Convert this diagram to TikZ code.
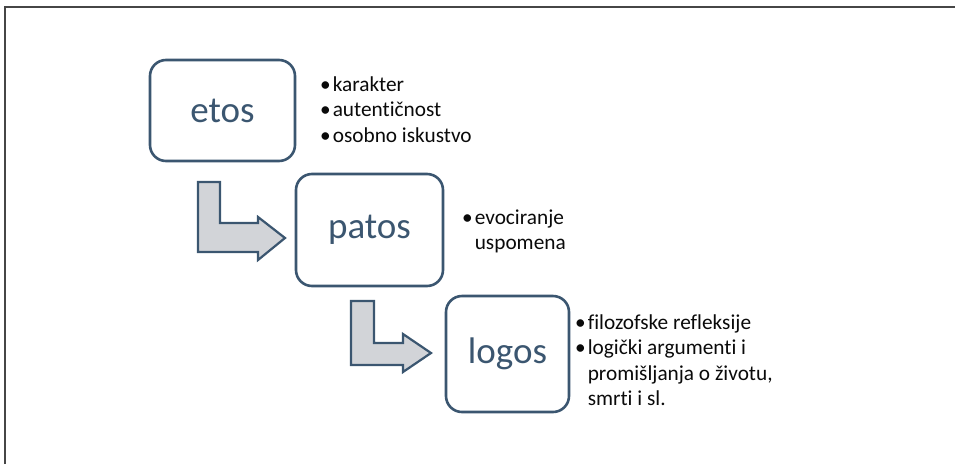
\documentclass[tikz,border=0pt]{standalone}
\usepackage{fontspec}
\setmainfont{Carlito}[Ligatures=NoCommon]
\usetikzlibrary{positioning}

\definecolor{slate}{RGB}{59,86,112}
\definecolor{arrowgray}{RGB}{210,212,216}
\definecolor{txt}{RGB}{10,10,10}

\newcommand{\blist}[1]{\begin{tabular}[t]{@{}l@{\hspace{2pt}}l@{}}#1\end{tabular}}

\begin{document}
\begin{tikzpicture}[x=1pt, y=-1pt,
            bx/.style={draw=slate, line width=2.6pt, rounded corners=16pt, fill=white,
                       inner sep=0pt, text=slate, font=\fontsize{37}{44}\selectfont},
            lst/.style={anchor=base west, inner sep=0pt, text=txt,
                        font=\fontsize{21.3}{25.5}\selectfont},
            barrow/.style={draw=slate, fill=arrowgray, line width=2.2pt, line join=miter}
        ]
        \useasboundingbox (0,0) rectangle (955,464);
        \draw[gray!55!black, line width=1.5pt] (5,464) -- (5,7) -- (955,7);

        \node[bx, minimum width=145pt, minimum height=101pt] (etos)  at (222.5,110.5) {etos};
        \node[bx, minimum width=147pt, minimum height=112pt] (patos) at (369.5,230)   {patos};
        \node[bx, minimum width=123pt, minimum height=116pt] (logos) at (507.5,354)   {logos};

        \node[lst] (etoslst)  at (320,91)  {\blist{\textbullet & karakter\\
                                                   \textbullet & autentičnost\\
                                                   \textbullet & osobno iskustvo}};
        \node[lst] (patoslst) at (462,224) {\blist{\textbullet & evociranje\\
                                                   & uspomena}};
        \node[lst] (logoslst) at (575,329) {\blist{\textbullet & filozofske refleksije\\
                                                   \textbullet & logički argumenti i\\
                                                   & promišljanja o životu,\\
                                                   & smrti i sl.}};

        % bent arrows between the boxes
        \draw[barrow] (198,182) -- (220,182) -- (220,223) -- (258,223) -- (258,217)
                      -- (285,238) -- (258,260) -- (258,252) -- (198,252) -- cycle;
        \draw[barrow] (351,301) -- (374,301) -- (374,343) -- (403,343) -- (403,334)
                      -- (431,353) -- (403,372) -- (403,365) -- (351,365) -- cycle;
    \end{tikzpicture}
\end{document}
